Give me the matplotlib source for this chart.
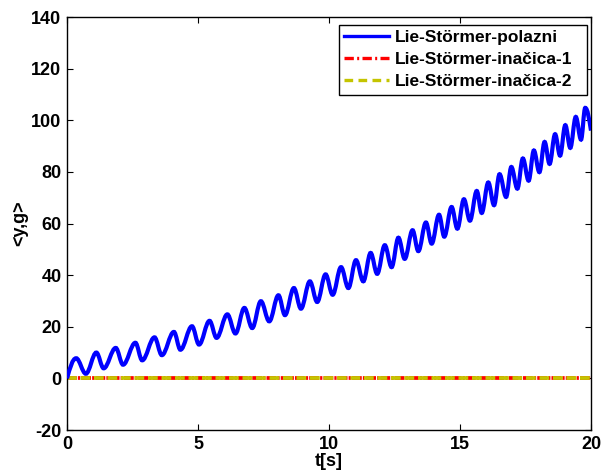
import matplotlib
matplotlib.use("Agg")
import matplotlib.pyplot as plt
from matplotlib.path import Path
from matplotlib.patches import PathPatch
from matplotlib.lines import Line2D

# vrhovi i dolovi krivulje <y,g> za polaznu metodu (ocitano sa slike)
peak_t = [0.35, 1.12, 1.86, 2.61, 3.34, 4.08, 4.77, 5.44, 6.12, 6.77, 7.40, 8.07,
          8.66, 9.27, 9.87, 10.46, 11.03, 11.59, 12.13, 12.65, 13.19, 13.70, 14.20, 14.68,
          15.15, 15.64, 16.08, 16.51, 16.96, 17.40, 17.82, 18.23, 18.63, 19.02, 19.42, 19.78]
peak_y = [7.8, 10.0, 11.8, 13.8, 15.9, 18.0, 20.2, 22.3, 24.8, 27.3, 29.9, 32.2,
          35.0, 37.6, 40.3, 43.1, 45.8, 48.6, 51.6, 54.5, 57.4, 60.4, 63.4, 66.4,
          69.4, 72.6, 75.9, 79.1, 81.9, 85.2, 88.3, 91.6, 94.6, 98.1, 101.3, 104.8]
trough_t = [0.72, 1.40, 2.14, 2.87, 3.62, 4.33, 5.04, 5.71, 6.43, 7.07, 7.72, 8.32,
            8.93, 9.55, 10.14, 10.74, 11.31, 11.84, 12.39, 12.89, 13.41, 13.92, 14.40, 14.90,
            15.38, 15.83, 16.30, 16.76, 17.19, 17.62, 18.03, 18.42, 18.82, 19.21, 19.62]
trough_y = [1.8, 3.9, 5.3, 7.0, 9.0, 11.1, 13.1, 15.7, 17.4, 19.5, 22.1, 24.5,
            27.0, 29.6, 32.4, 35.0, 37.6, 40.5, 43.1, 46.3, 49.3, 52.2, 54.9, 58.0,
            61.1, 64.1, 67.1, 70.3, 73.5, 76.6, 79.9, 83.1, 86.3, 89.3, 92.5]
start_t, start_y = 0.0, 0.0
end_t, end_y = 20.0, 96.0

# inacice - ostaju na nuli
t_span = [0, 20]
inacica1 = [0, 0]
inacica2 = [0, 0]

labels = ['Lie-Störmer-polazni', 'Lie-Störmer-inačica-1', 'Lie-Störmer-inačica-2']
xticks = [0, 5, 10, 15, 20]
yticks = [-20, 0, 20, 40, 60, 80, 100, 120, 140]

YELLOW = '#c4c400'


def osc_path(start, extrema, end):
    # glatka krivulja kroz ekstreme (horizontalna tangenta u svakom ekstremu)
    k = 0.3642
    verts = [start]
    codes = [Path.MOVETO]
    (t0, y0), (t1, y1) = start, extrema[0]
    dt = t1 - t0
    verts += [(t0 + dt * 0.33, y0 + (y1 - y0) * 0.52), (t1 - dt * 0.4, y1), (t1, y1)]
    codes += [Path.CURVE4] * 3
    for (ta, ya), (tb, yb) in zip(extrema[:-1], extrema[1:]):
        dt = tb - ta
        verts += [(ta + k * dt, ya), (tb - k * dt, yb), (tb, yb)]
        codes += [Path.CURVE4] * 3
    (ta, ya), (tb, yb) = extrema[-1], end
    dt = tb - ta
    verts += [(ta + dt * 0.4, ya), (tb - dt * 0.33, yb + (ya - yb) * 0.52), (tb, yb)]
    codes += [Path.CURVE4] * 3
    return Path(verts, codes)


plt.rcParams['font.family'] = ['Liberation Sans', 'DejaVu Sans']
plt.rcParams['font.weight'] = 'bold'
plt.rcParams['axes.unicode_minus'] = False

fig = plt.figure(figsize=(6.02, 4.74), dpi=100)
ax = fig.add_axes([0.1113, 0.0928, 0.8704, 0.8713])

extrema = []
for i in range(len(peak_t)):
    extrema.append((peak_t[i], peak_y[i]))
    if i < len(trough_t):
        extrema.append((trough_t[i], trough_y[i]))

# crvena ispod, zuta crtkana preko nje
ax.plot(t_span, inacica1, color='red', lw=2.7, dashes=(2.6, 0.3, 0.6, 0.3))
ax.plot(t_span, inacica2, color=YELLOW, lw=2.7, dashes=(2.6, 1.0))
ax.add_patch(PathPatch(osc_path((start_t, start_y), extrema, (end_t, end_y)),
                       facecolor='none', edgecolor='blue', lw=3, zorder=3,
                       transform=ax.transData, clip_on=True))

handles = [Line2D([], [], color='blue', lw=2.4),
           Line2D([], [], color='red', lw=2.4, dashes=(2.8, 1.0, 0.6, 1.0)),
           Line2D([], [], color=YELLOW, lw=2.4, dashes=(2.6, 1.6))]
leg = ax.legend(handles, labels, loc='upper left', mode='expand',
                bbox_to_anchor=(0.519, 0.5, 0.473, 0.481), borderaxespad=0,
                fontsize=12.5, fancybox=False, framealpha=1, edgecolor='black',
                handlelength=2.6, handletextpad=0.3, labelspacing=0.4,
                borderpad=0.3)
leg.get_frame().set_linewidth(1.0)

ax.set_xlim(0, 20)
ax.set_ylim(-20, 140)
ax.set_xticks(xticks)
ax.set_yticks(yticks)
ax.tick_params(direction='in', top=True, right=True, length=4, width=0.8,
               labelsize=13, pad=4)
for s in ax.spines.values():
    s.set_linewidth(1.0)
ax.set_xlabel('t[s]', fontsize=13, fontweight='bold', labelpad=0)
ax.set_ylabel('<y,g>', fontsize=13, fontweight='bold', labelpad=2)

fig.savefig('out.png', dpi=100)
